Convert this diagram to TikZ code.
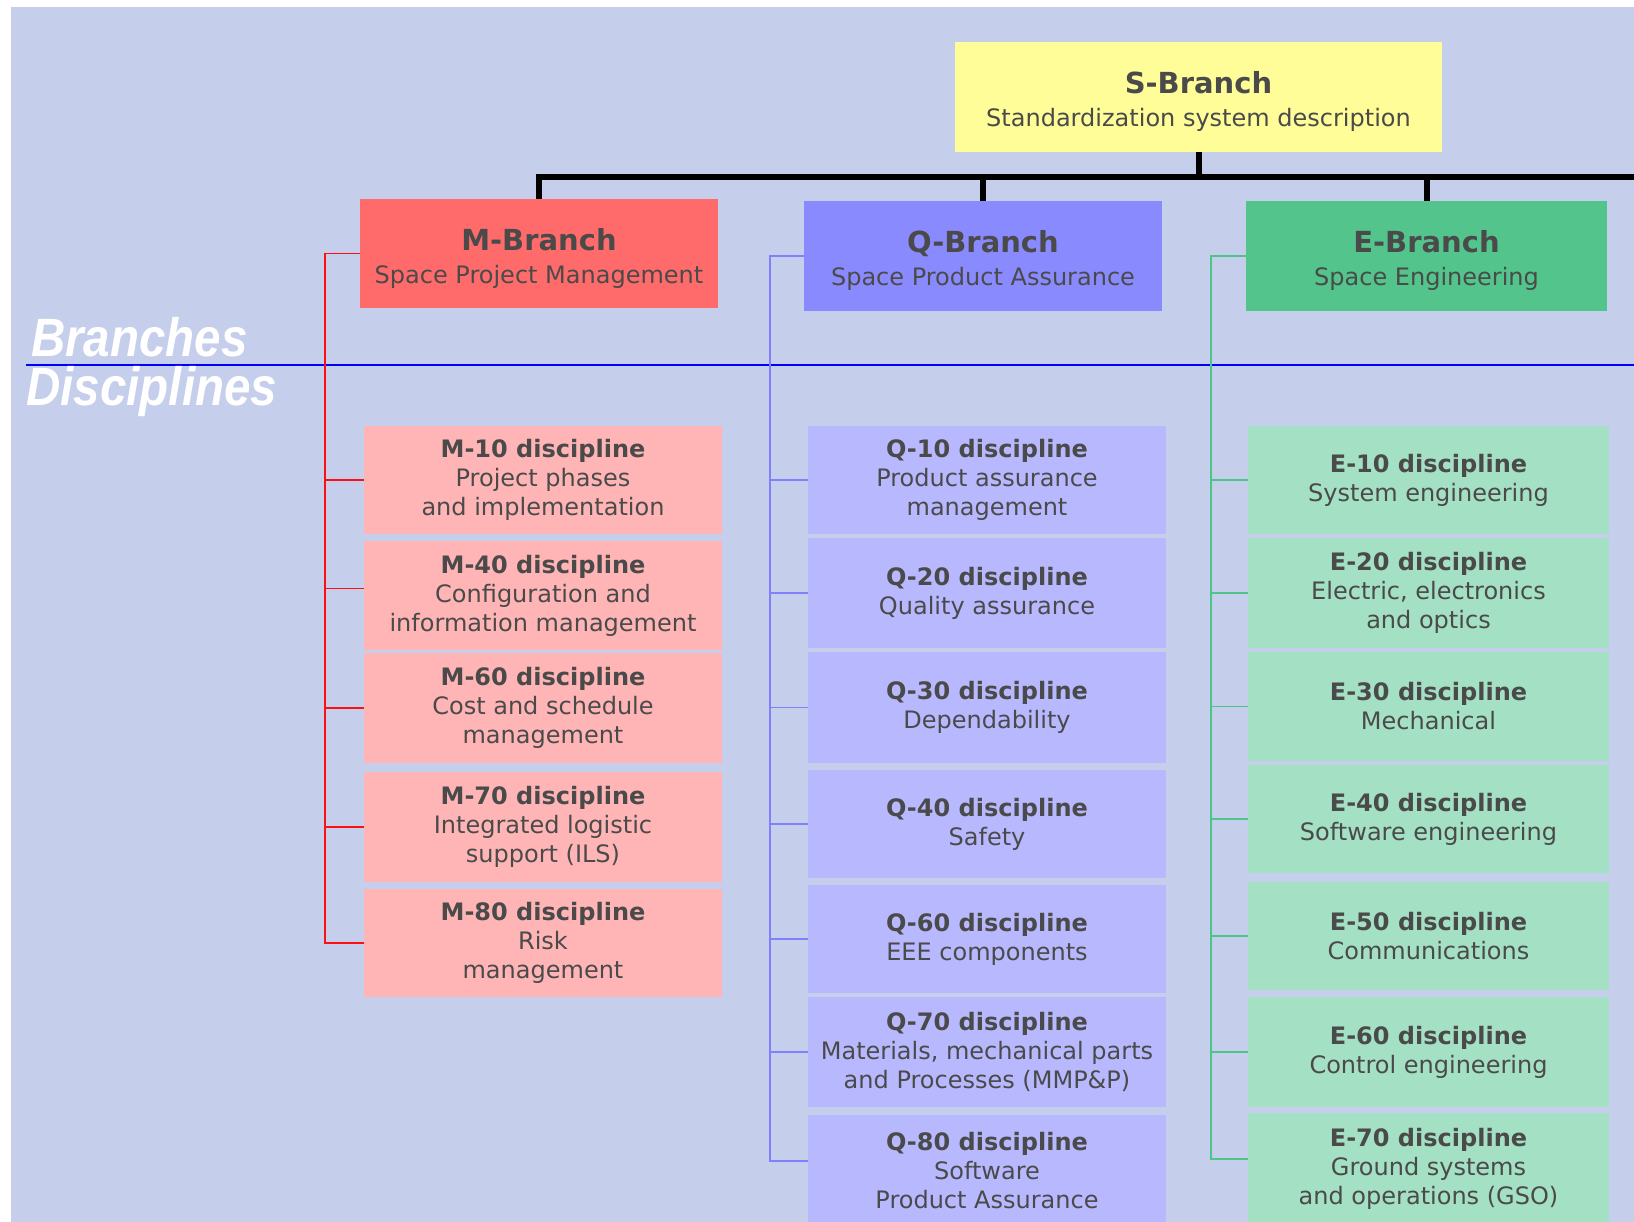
\documentclass[tikz,border=0pt]{standalone}
\usepackage{fontspec}
\setmainfont{DejaVu Sans}
\newfontfamily\labfont[FakeStretch=0.88]{Liberation Sans}
\usetikzlibrary{calc}
\definecolor{bg}{HTML}{C5CEEB}
\definecolor{sfill}{HTML}{FFFD98}
\definecolor{mbr}{HTML}{FF6B6B}
\definecolor{qbr}{HTML}{8A8AFF}
\definecolor{ebr}{HTML}{52C48C}
\definecolor{mdis}{HTML}{FFB5B5}
\definecolor{qdis}{HTML}{B8B8FF}
\definecolor{edis}{HTML}{A4E0C3}
\definecolor{mln}{HTML}{FF1010}
\definecolor{qln}{HTML}{8080FF}
\definecolor{eln}{HTML}{4CC48A}
\definecolor{txt}{HTML}{4A4A4A}
\newcommand{\brtitle}[1]{\rule{0pt}{31pt}{\fontsize{29}{33}\selectfont\bfseries #1}}
\begin{document}
\begin{tikzpicture}[x=1pt,y=-1pt,
  box/.style={rectangle, inner sep=0pt, align=center, text=txt,
    font=\fontsize{24}{29}\selectfont},
  brbox/.style={box, font=\fontsize{24}{33}\selectfont},
  mdbox/.style={box, fill=mdis, minimum width=358, },
  qdbox/.style={box, fill=qdis, minimum width=358},
  edbox/.style={box, fill=edis, minimum width=361},
  bus/.style={line width=6pt, black},
  mline/.style={line width=1.8pt, mln},
  qline/.style={line width=1.8pt, qln},
  eline/.style={line width=1.8pt, eln},
  lab/.style={text=white, anchor=base west, inner sep=0pt,
    font=\labfont\fontsize{54}{60}\selectfont\bfseries\itshape}
]
\useasboundingbox[fill=white] (0,0) rectangle (1634,1222);
\fill[bg] (11,7) rectangle (1634,1222);

% separator
\coordinate (sepL) at (26,365);
\coordinate (sepR) at (1634,365);
\draw[line width=2.5pt, blue] (sepL) -- (sepR);
\node[lab] (brl) at (31,357) {Branches};
\node[lab] (dsl) at (26,406) {Disciplines};

% top level
\node[brbox, fill=sfill, minimum width=487, minimum height=110] (sb) at (1198.5,97)
  {\brtitle{S-Branch}\\Standardization system description};
\node[brbox, fill=mbr, minimum width=358, minimum height=109] (mb) at (539,253.5)
  {\brtitle{M-Branch}\\Space Project Management};
\node[brbox, fill=qbr, minimum width=358, minimum height=110] (qb) at (983,256)
  {\brtitle{Q-Branch}\\Space Product Assurance};
\node[brbox, fill=ebr, minimum width=361, minimum height=110] (eb) at (1426.5,256)
  {\brtitle{E-Branch}\\Space Engineering};

\coordinate (busR) at (1650,177);
\draw[bus] (mb.north) |- (busR);
\draw[bus] (qb.north) -- (qb.north |- busR);
\draw[bus] (eb.north) -- (eb.north |- busR);
\draw[bus] (sb.south) -- (sb.south |- busR);

% M disciplines
\node[mdbox, minimum height=108] (m10) at (543,480) {\textbf{M-10 discipline}\\Project phases\\and implementation};
\node[mdbox, minimum height=109] (m40) at (543,595.5) {\textbf{M-40 discipline}\\Configuration and\\information management};
\node[mdbox, minimum height=110] (m60) at (543,708) {\textbf{M-60 discipline}\\Cost and schedule\\management};
\node[mdbox, minimum height=110] (m70) at (543,827) {\textbf{M-70 discipline}\\Integrated logistic\\support (ILS)};
\node[mdbox, minimum height=108] (m80) at (543,943) {\textbf{M-80 discipline}\\Risk\\management};

% Q disciplines
\node[qdbox, minimum height=108] (q10) at (987,480) {\textbf{Q-10 discipline}\\Product assurance\\management};
\node[qdbox, minimum height=110] (q20) at (987,593) {\textbf{Q-20 discipline}\\Quality assurance};
\node[qdbox, minimum height=111] (q30) at (987,707.5) {\textbf{Q-30 discipline}\\Dependability};
\node[qdbox, minimum height=108] (q40) at (987,824) {\textbf{Q-40 discipline}\\Safety};
\node[qdbox, minimum height=108] (q60) at (987,939) {\textbf{Q-60 discipline}\\EEE components};
\node[qdbox, minimum height=110] (q70) at (987,1052) {\textbf{Q-70 discipline}\\Materials, mechanical parts\\and Processes (MMP\&P)};
\node[qdbox, minimum height=112] (q80) at (987,1171) {\textbf{Q-80 discipline}\\Software\\Product Assurance};

% E disciplines
\node[edbox, minimum height=108] (e10) at (1428.5,480) {\textbf{E-10 discipline}\\System engineering};
\node[edbox, minimum height=110] (e20) at (1428.5,593) {\textbf{E-20 discipline}\\Electric, electronics\\and optics};
\node[edbox, minimum height=109] (e30) at (1428.5,706.5) {\textbf{E-30 discipline}\\Mechanical};
\node[edbox, minimum height=108] (e40) at (1428.5,819) {\textbf{E-40 discipline}\\Software engineering};
\node[edbox, minimum height=108] (e50) at (1428.5,936) {\textbf{E-50 discipline}\\Communications};
\node[edbox, minimum height=110] (e60) at (1428.5,1052) {\textbf{E-60 discipline}\\Control engineering};
\node[edbox, minimum height=112] (e70) at (1428.5,1169) {\textbf{E-70 discipline}\\Ground systems\\and operations (GSO)};

% trunks
\coordinate (mT) at (325,0);
\coordinate (qT) at (770,0);
\coordinate (eT) at (1211,0);
\coordinate (m40t) at ([yshift=7pt]m40.west);
\coordinate (q80t) at ([yshift=10pt]q80.west);
\coordinate (e70t) at ([yshift=10pt]e70.west);
\draw[mline] (mb.west) -- (mb.west -| mT) -- (m80.west -| mT) -- (m80.west);
\foreach \n in {m10,m40t,m60,m70} \draw[mline] (\n -| mT) -- (\n);
\draw[qline] (qb.west) -- (qb.west -| qT) -- (q80t -| qT) -- (q80t);
\foreach \n in {q10,q20,q30,q40,q60,q70} \draw[qline] (\n.west -| qT) -- (\n.west);
\draw[eline] (eb.west) -- (eb.west -| eT) -- (e70t -| eT) -- (e70t);
\foreach \n in {e10,e20,e30,e40,e50,e60} \draw[eline] (\n.west -| eT) -- (\n.west);
\end{tikzpicture}
\end{document}
